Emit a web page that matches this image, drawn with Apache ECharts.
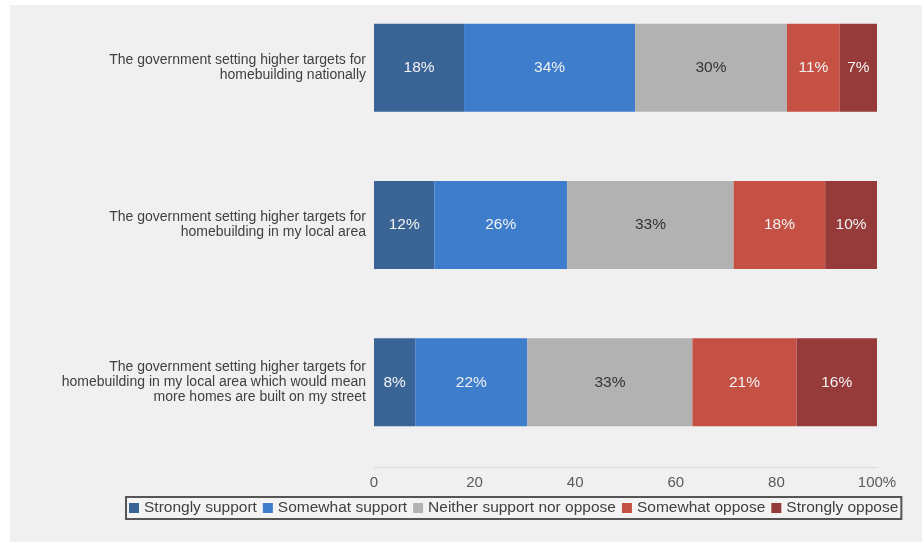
<!DOCTYPE html>
<html>
<head>
<meta charset="utf-8">
<script src="https://cdn.jsdelivr.net/npm/echarts@6/dist/echarts.min.js"></script>
<style>
  html, body { margin: 0; padding: 0; background: #ffffff; }
  #main { width: 922px; height: 542px; }
</style>
</head>
<body>
<div id="main"></div>
<script>
// categories, top to bottom
const questions = [
  'The government setting higher targets for\nhomebuilding nationally',
  'The government setting higher targets for\nhomebuilding in my local area',
  'The government setting higher targets for\nhomebuilding in my local area which would mean\nmore homes are built on my street'
]
const seriesNames = ['Strongly support', 'Somewhat support', 'Neither support nor oppose', 'Somewhat oppose', 'Strongly oppose']

// shares in %, one value per question (same order as questions)
const stronglySupport = [17.9, 12.0, 8.2]
const somewhatSupport = [34.0, 26.4, 22.3]
const neither = [30.2, 33.1, 32.8]
const somewhatOppose = [10.5, 18.2, 20.7]
const stronglyOppose = [7.4, 10.3, 16.0]

const xTicks = [0, 20, 40, 60, 80, 100]

const colors = ['#3b6496', '#3d7dcb', '#b2b2b2', '#c55044', '#963a3a']
const labelColors = ['#f2f2f2', '#f2f2f2', '#333333', '#f2f2f2', '#f2f2f2']

const chart = echarts.init(document.getElementById('main'))

const allData = [stronglySupport, somewhatSupport, neither, somewhatOppose, stronglyOppose]

const option = {
  animation: false,
  textStyle: { fontFamily: 'Liberation Sans, Arial, sans-serif' },
  graphic: [{
    type: 'rect',
    z: -10,
    shape: { x: 10, y: 5, width: 912, height: 537 },
    style: { fill: '#f0f0f0' }
  }],
  grid: {
    left: 374,
    right: 45,
    top: -11,
    height: 472,
    outerBoundsMode: 'none'
  },
  xAxis: {
    type: 'value',
    min: 0,
    max: 100,
    interval: 20,
    offset: 6,
    splitLine: { show: false },
    axisTick: { show: false },
    axisLine: { show: true, lineStyle: { color: '#d9d9d9', width: 1 } },
    axisLabel: {
      color: '#595959',
      fontSize: 15,
      margin: 8,
      formatter: v => (v === xTicks[xTicks.length - 1] ? v + '%' : String(v))
    }
  },
  yAxis: {
    type: 'category',
    inverse: true,
    data: questions,
    axisLine: { show: false },
    axisTick: { show: false },
    axisLabel: {
      color: '#404040',
      fontSize: 14,
      lineHeight: 15,
      margin: 8,
      align: 'right'
    }
  },
  legend: {
    left: 126,
    top: 497,
    padding: [3, 3, 3, 3],
    itemGap: 6,
    itemWidth: 10,
    itemHeight: 10,
    icon: 'rect',
    borderColor: '#555555',
    borderWidth: 2,
    backgroundColor: '#f3f3f3',
    textStyle: { color: '#404040', fontSize: 15.5 },
    data: seriesNames
  },
  series: seriesNames.map((name, i) => ({
    name: name,
    type: 'bar',
    stack: 'total',
    barWidth: 88,
    itemStyle: { color: colors[i] },
    label: {
      show: true,
      position: 'inside',
      color: labelColors[i],
      fontSize: 15.5,
      formatter: p => Math.round(p.value) + '%'
    },
    data: allData[i]
  }))
}

chart.setOption(option)
</script>
</body>
</html>
